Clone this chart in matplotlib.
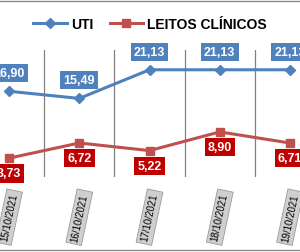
import matplotlib.pyplot as plt
from matplotlib.lines import Line2D

# -------------------------
# Dados
# -------------------------
datas = ['15/10/2021', '16/10/2021', '17/10/2021', '18/10/2021', '19/10/2021']
uti = [16.90, 15.49, 21.13, 21.13, 21.13]
leitos = [3.73, 6.72, 5.22, 8.90, 6.71]

azul = '#4f81bd'
vermelho = '#c0504d'
caixa_vermelha = '#c00000'

fig = plt.figure(figsize=(3.0, 2.53), dpi=100)
ax = fig.add_axes([0, 0.296, 1, 0.502])

x = list(range(len(datas)))
ax.plot(x, uti, color=azul, lw=2.2, marker='D', ms=5.5, label='UTI')
ax.plot(x, leitos, color=vermelho, lw=2.2, marker='s', ms=6, label='LEITOS CLÍNICOS')

fonte = 'Liberation Sans'
for i, v in enumerate(uti):
    ax.annotate(f'{v:.2f}'.replace('.', ','), (i, v), xytext=(0, 13), textcoords='offset points',
                ha='center', va='center', color='white', fontsize=9, fontweight='bold', family=fonte,
                bbox=dict(boxstyle='square,pad=0.25', fc=azul, ec='none'))
for i, v in enumerate(leitos):
    ax.annotate(f'{v:.2f}'.replace('.', ','), (i, v), xytext=(0, -11), textcoords='offset points',
                ha='center', va='center', color='white', fontsize=9, fontweight='bold', family=fonte,
                bbox=dict(boxstyle='square,pad=0.25', fc=caixa_vermelha, ec='none'))

ax.set_xlim(-0.128, 4.142)
ax.set_ylim(0, 25)
for g in [0.5, 1.5, 2.5, 3.5]:
    ax.axvline(g, color='#808080', lw=0.9, zorder=0)

ax.set_yticks([])
ax.set_xticks(x)
ax.set_xticklabels(datas, rotation=78, fontsize=7, family=fonte)
ax.tick_params(axis='x', length=0, pad=11)
for lbl in ax.get_xticklabels():
    lbl.set_bbox(dict(boxstyle='square,pad=0.3', fc='#cfcfcf', ec='#9a9a9a', lw=0.6))
for s in ax.spines.values():
    s.set_visible(False)

leg = fig.legend(loc='center', bbox_to_anchor=(0.5, 0.9), ncol=2, frameon=False,
                 prop={'family': fonte, 'weight': 'bold', 'size': 10},
                 handlelength=2.4, columnspacing=1.2, handletextpad=0.3)

# bordas do gráfico
fig.add_artist(Line2D([0, 1], [0.992, 0.992], color='#8c8c8c', lw=1))
fig.add_artist(Line2D([0, 1], [0.008, 0.008], color='#8c8c8c', lw=1))

fig.savefig('out.png', dpi=100)
